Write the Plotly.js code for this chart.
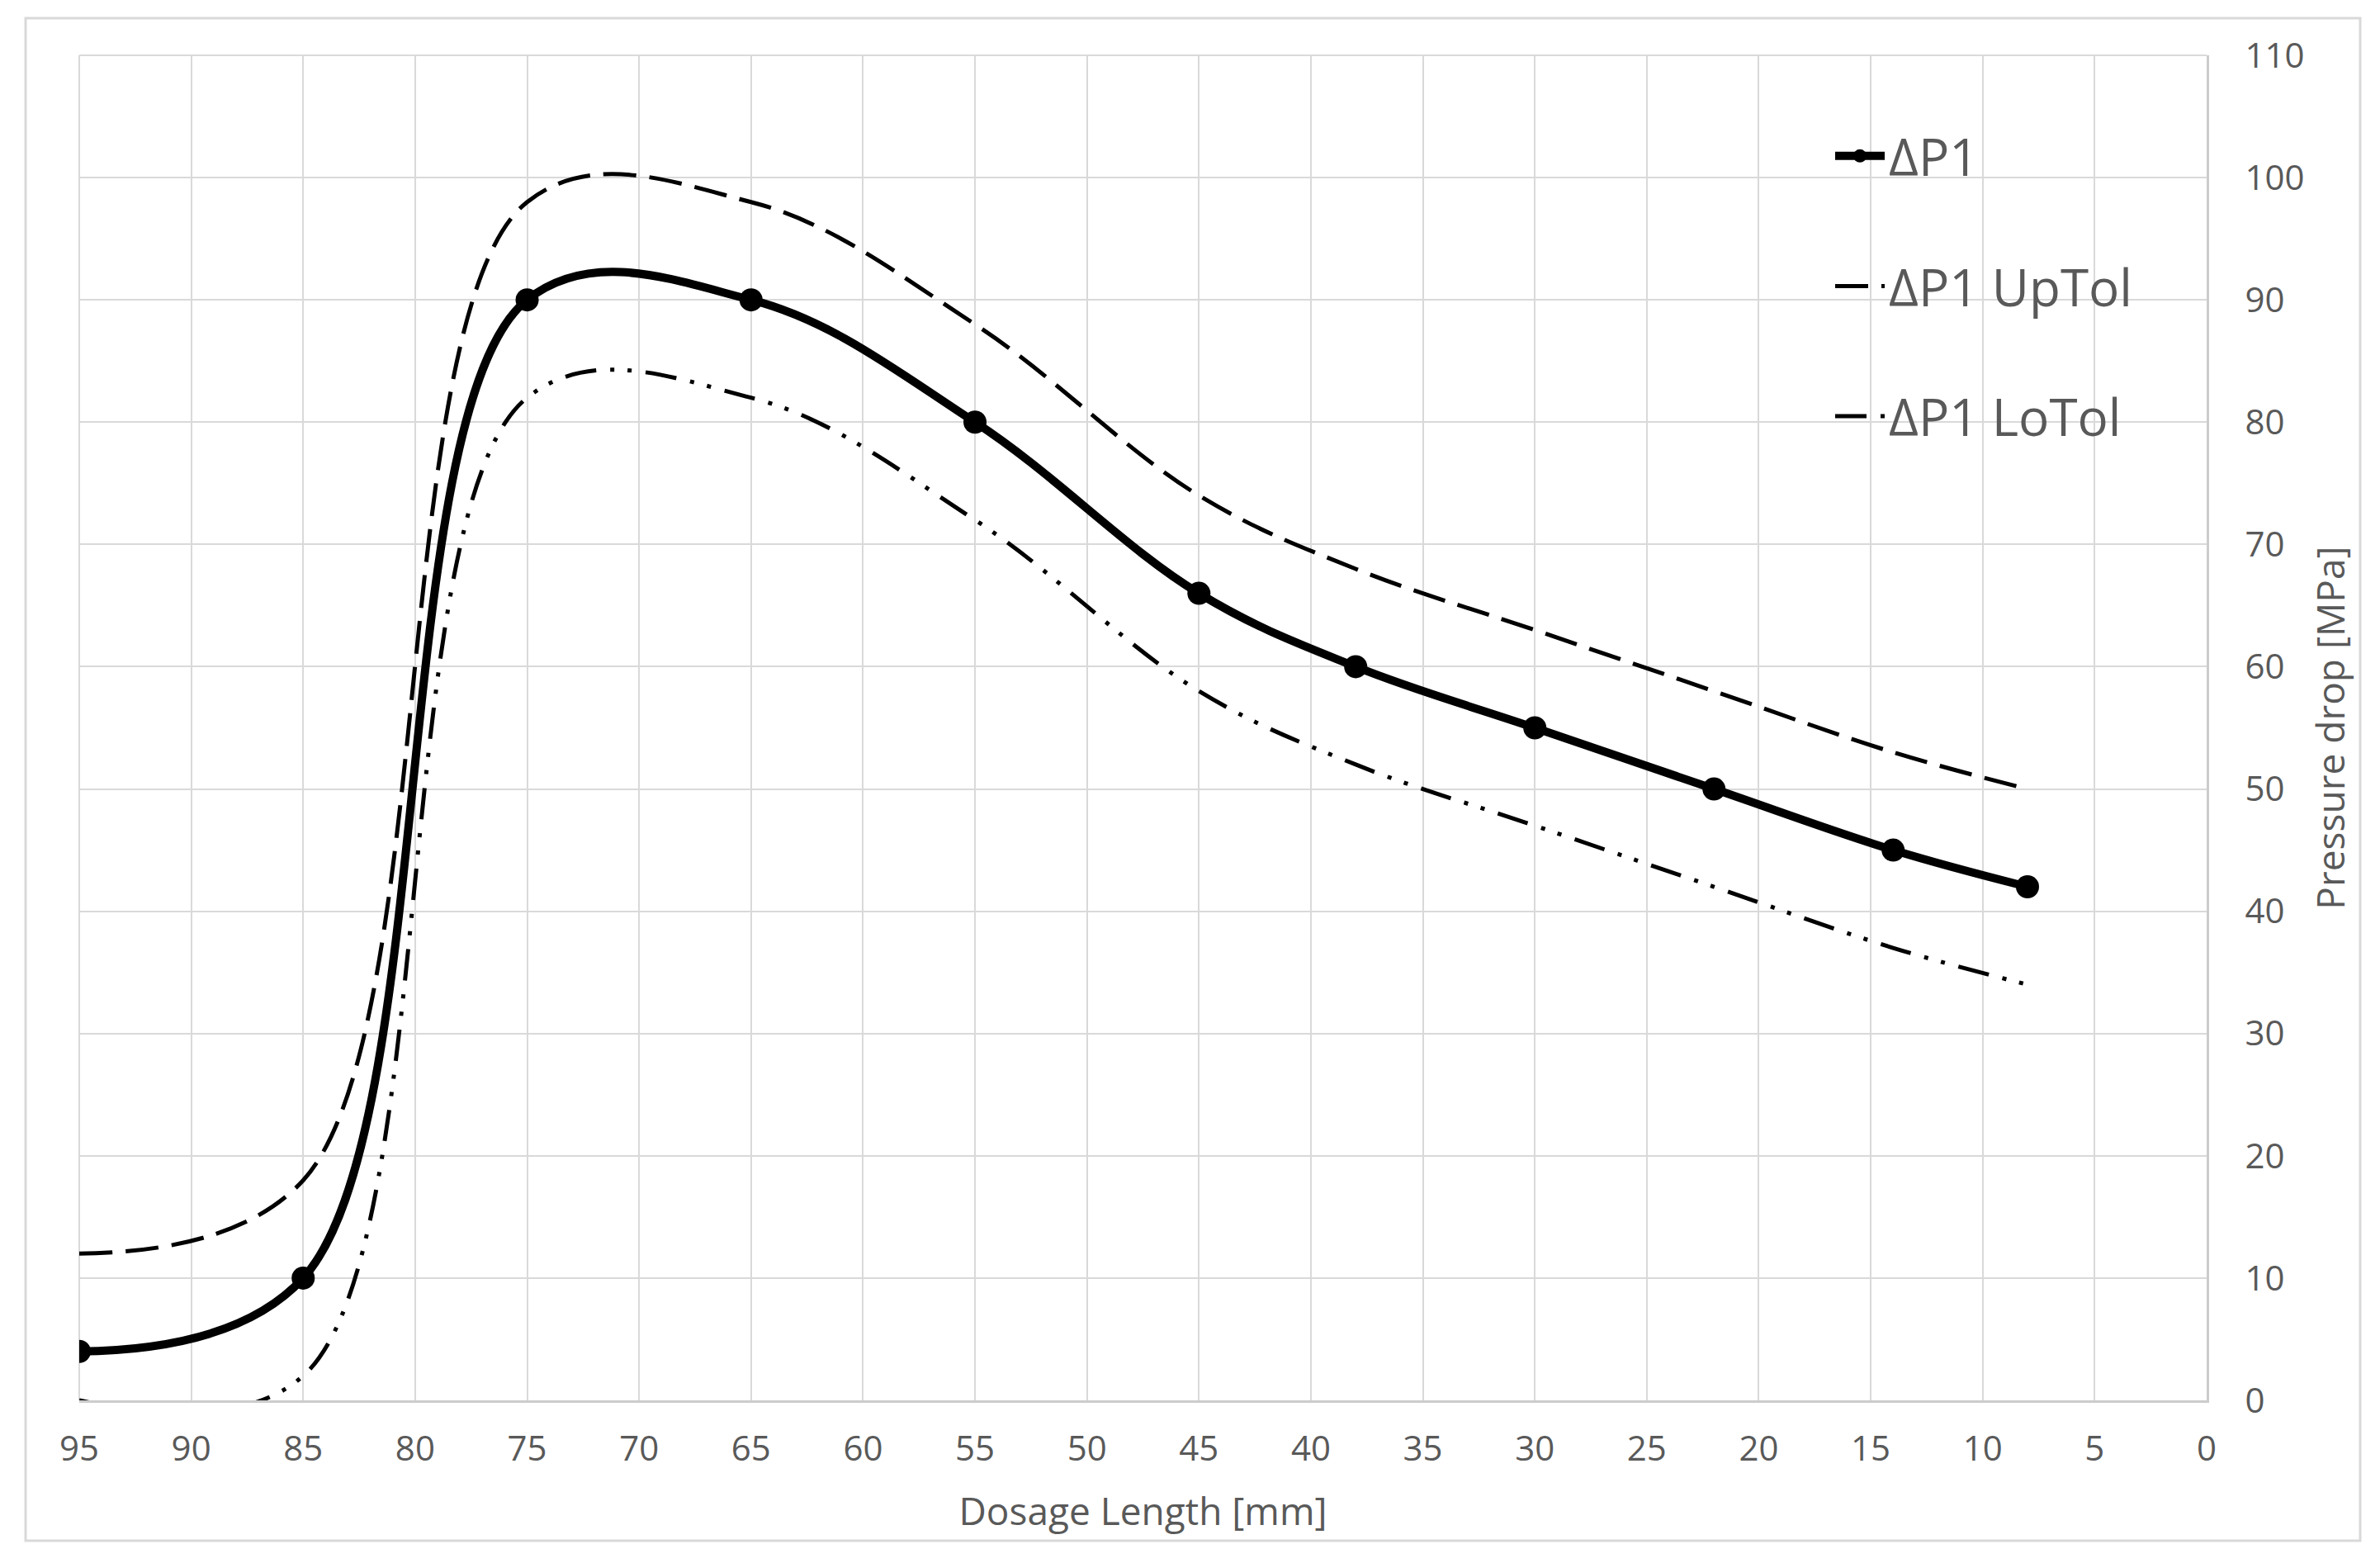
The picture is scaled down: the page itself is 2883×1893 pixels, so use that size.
<!DOCTYPE html>
<html>
<head>
<meta charset="utf-8">
<script src="https://cdn.plot.ly/plotly-3.0.1.min.js"></script>
<style>html,body{margin:0;padding:0;background:#fff;}#chart{width:2883px;height:1893px;}</style>
</head>
<body>
<div id="chart"></div>
<script>
// Dosage length [mm]
const dosageLength = [95, 85, 75, 65, 55, 45, 38, 30, 22, 14, 8];
// Pressure drop [MPa]
const dp1      = [4, 10, 90, 90, 80, 66, 60, 55, 50, 45, 42];
const dp1UpTol = [12, 18, 98, 98, 88, 74, 68, 63, 58, 53, 50];
const dp1LoTol = [0, 2, 82, 82, 72, 58, 52, 47, 42, 37, 34];
const seriesNames = ['ΔP1', 'ΔP1 UpTol', 'ΔP1 LoTol'];
const xTicks = [95, 90, 85, 80, 75, 70, 65, 60, 55, 50, 45, 40, 35, 30, 25, 20, 15, 10, 5, 0];
const yTicks = [0, 10, 20, 30, 40, 50, 60, 70, 80, 90, 100, 110];

const FONT = '"Open Sans", "Noto Sans", sans-serif';
const TXT = '#595959';
const GRID = '#d9d9d9';
const SMOOTH = 1.05;

const traces = [
  {
    x: dosageLength, y: dp1, name: seriesNames[0], type: 'scatter', mode: 'lines+markers',
    line: {color: '#000', width: 10, shape: 'spline', smoothing: SMOOTH},
    marker: {color: '#000', size: 28},
    legendgroup: 'a'
  },
  {
    x: dosageLength, y: dp1UpTol, name: seriesNames[1], type: 'scatter', mode: 'lines',
    line: {color: '#000', width: 5, shape: 'spline', smoothing: SMOOTH, dash: '40px,16px'},
    legendgroup: 'b'
  },
  {
    x: dosageLength, y: dp1LoTol, name: seriesNames[2], type: 'scatter', mode: 'lines',
    line: {color: '#000', width: 5, shape: 'spline', smoothing: SMOOTH, dash: '38px,17px,5px,16px,5px,17px'},
    legendgroup: 'c'
  }
];

const pl = 96, pr = 2673, pt = 67, pb = 1696;
const W = 2883, H = 1893;
const pw = pr - pl, ph = pb - pt;
function px2paperX(x){ return (x - pl) / pw; }
function px2paperY(y){ return (pb - y) / ph; }

const layout = {
  width: W, height: H,
  margin: {l: pl, r: W - pr, t: pt, b: H - pb, pad: 0},
  paper_bgcolor: '#fff', plot_bgcolor: '#fff',
  font: {family: FONT, color: TXT, size: 42},
  showlegend: true,
  legend: {
    x: px2paperX(2218), y: px2paperY(142), xanchor: 'left', yanchor: 'top',
    bgcolor: 'rgba(0,0,0,0)', borderwidth: 0,
    font: {family: FONT, size: 62, color: TXT},
    tracegroupgap: 74, itemwidth: 60
  },
  xaxis: {
    range: [95, 0], tickmode: 'array', tickvals: xTicks, ticktext: xTicks.map(String),
    showgrid: true, gridcolor: GRID, gridwidth: 2, zeroline: false,
    showline: true, linecolor: '#cccccc', linewidth: 3, mirror: false,
    ticks: '', ticklabelstandoff: 20,
    tickfont: {family: FONT, size: 42, color: TXT},
    title: {text: 'Dosage Length [mm]', font: {family: FONT, size: 46, color: TXT}, standoff: 35},
    automargin: false, fixedrange: true
  },
  yaxis: {
    side: 'right', range: [0, 110], tickmode: 'array', tickvals: yTicks, ticktext: yTicks.map(String),
    showgrid: true, gridcolor: GRID, gridwidth: 2, zeroline: false,
    showline: true, linecolor: '#cccccc', linewidth: 3,
    ticks: '', ticklabelstandoff: 35,
    tickfont: {family: FONT, size: 42, color: TXT},
    title: {text: 'Pressure drop [MPa]', font: {family: FONT, size: 46, color: TXT}, standoff: 18},
    automargin: false, fixedrange: true
  },
  shapes: [
    {type: 'rect', xref: 'paper', yref: 'paper',
     x0: px2paperX(31), x1: px2paperX(2859), y0: px2paperY(1866), y1: px2paperY(22),
     line: {color: '#d9d9d9', width: 3}, fillcolor: 'rgba(0,0,0,0)', layer: 'below'},
    {type: 'line', xref: 'paper', yref: 'paper', x0: 0, x1: 1, y0: 1, y1: 1,
     line: {color: GRID, width: 2}, layer: 'below'},
    {type: 'line', xref: 'paper', yref: 'paper', x0: 0, x1: 0, y0: 0, y1: 1,
     line: {color: GRID, width: 2}, layer: 'below'}
  ]
};

Plotly.newPlot('chart', traces, layout, {displayModeBar: false, staticPlot: true});
</script>
</body>
</html>
